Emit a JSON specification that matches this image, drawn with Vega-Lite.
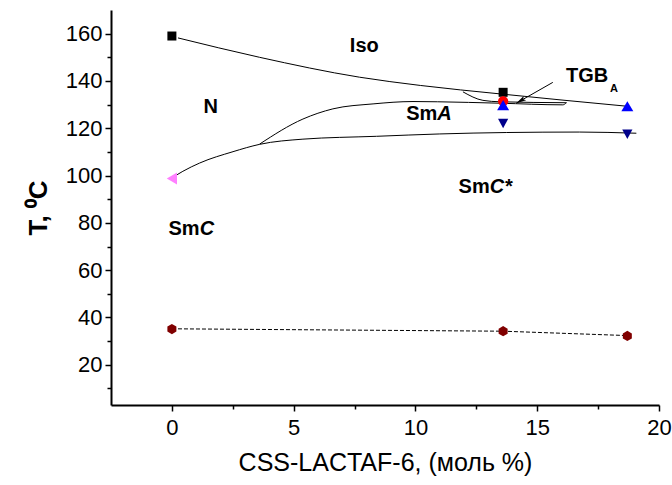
{
  "$schema": "https://vega.github.io/schema/vega-lite/v6.json",
  "width": 548,
  "height": 395,
  "autosize": {"type": "none"},
  "padding": {"left": 111, "top": 10, "right": 13, "bottom": 80},
  "background": "white",
  "config": {
    "view": {"stroke": null},
    "font": "Liberation Sans",
    "axis": {
      "grid": false,
      "domainColor": "black",
      "domainWidth": 2,
      "tickColor": "black",
      "tickWidth": 1.5,
      "labelColor": "black",
      "labelFont": "Liberation Sans",
      "labelFontSize": 22,
      "titleColor": "black",
      "titleFont": "Liberation Sans"
    }
  },
  "datasets": {
    "pts": [
      {"s": "sq", "x": 0, "y": 159.0},
      {"s": "sq", "x": 13.6, "y": 135.2},
      {"s": "ci", "x": 13.6, "y": 131.4},
      {"s": "up", "x": 13.6, "y": 129.8},
      {"s": "up", "x": 18.7, "y": 129.3},
      {"s": "dn", "x": 13.6, "y": 122.0},
      {"s": "dn", "x": 18.7, "y": 117.5},
      {"s": "lt", "x": 0, "y": 98.8},
      {"s": "hx", "x": 0, "y": 35.1},
      {"s": "hx", "x": 13.6, "y": 34.2},
      {"s": "hx", "x": 18.7, "y": 32.2}
    ],
    "lines": [
      {"c": "iso", "x": 0.25, "y": 158.2},
      {"c": "iso", "x": 3.6, "y": 150.0},
      {"c": "iso", "x": 7.7, "y": 141.6},
      {"c": "iso", "x": 10.2, "y": 138.1},
      {"c": "iso", "x": 13.5, "y": 134.5},
      {"c": "iso", "x": 18.7, "y": 129.3},
      {"c": "tgb", "x": 11.95, "y": 135.4},
      {"c": "tgb", "x": 12.77, "y": 131.8},
      {"c": "tgb", "x": 13.46, "y": 131.2},
      {"c": "tgb", "x": 16.2, "y": 130.8},
      {"c": "sma", "x": 3.6, "y": 113.3},
      {"c": "sma", "x": 5.38, "y": 123.9},
      {"c": "sma", "x": 6.61, "y": 128.2},
      {"c": "sma", "x": 8.26, "y": 130.3},
      {"c": "sma", "x": 9.9, "y": 131.3},
      {"c": "sma", "x": 10.9, "y": 131.2},
      {"c": "sma", "x": 13.46, "y": 130.6},
      {"c": "sma", "x": 16.05, "y": 129.9},
      {"c": "sma", "x": 16.2, "y": 130.8},
      {"c": "low", "x": 0.05, "y": 99.3},
      {"c": "low", "x": 0.45, "y": 101.8},
      {"c": "low", "x": 1.14, "y": 105.3},
      {"c": "low", "x": 2.51, "y": 110.1},
      {"c": "low", "x": 3.6, "y": 113.2},
      {"c": "low", "x": 5.38, "y": 115.4},
      {"c": "low", "x": 8.4, "y": 116.6},
      {"c": "low", "x": 11.0, "y": 117.6},
      {"c": "low", "x": 13.73, "y": 118.2},
      {"c": "low", "x": 16.74, "y": 118.4},
      {"c": "low", "x": 19.07, "y": 117.9},
      {"c": "arrow", "x": 15.64, "y": 139.4},
      {"c": "arrow", "x": 14.14, "y": 130.6}
    ],
    "dash": [
      {"x": 0.25, "y": 35.2},
      {"x": 13.6, "y": 34.2},
      {"x": 18.85, "y": 32.3}
    ],
    "head": [
      {"x": 14.14, "y": 130.6}
    ],
    "plain": [
      {"t": "Iso", "x": 7.9, "y": 154.9},
      {"t": "N", "x": 1.59, "y": 129.0},
      {"t": "TGB", "x": 17.05, "y": 142.3}
    ],
    "comp": [
      {"a": "Sm", "b": "A", "x": 10.9, "y": 126.2},
      {"a": "Sm", "b": "C*", "x": 13.05, "y": 95.3},
      {"a": "Sm", "b": "C", "x": 1.14, "y": 77.6}
    ],
    "sub": [
      {"t": "A", "x": 18.15, "y": 136.6}
    ]
  },
  "encoding": {
    "x": {
      "field": "x",
      "type": "quantitative",
      "scale": {"domain": [-2.5, 20], "nice": false, "zero": false},
      "axis": {
        "values": [0, 2.5, 5, 7.5, 10, 12.5, 15, 17.5, 20],
        "labelExpr": "datum.value % 5 === 0 ? datum.label : ''",
        "tickSize": {"condition": {"test": "datum.value % 5 === 0", "value": 6}, "value": 4},
        "labelPadding": 6,
        "labelFlush": false,
        "title": "CSS-LACTAF-6, (моль %)",
        "titleFontSize": 25,
        "titleFontWeight": "normal",
        "titlePadding": 12
      }
    },
    "y": {
      "field": "y",
      "type": "quantitative",
      "scale": {"domain": [3, 170], "nice": false, "zero": false},
      "axis": {
        "values": [10, 20, 30, 40, 50, 60, 70, 80, 90, 100, 110, 120, 130, 140, 150, 160],
        "labelExpr": "datum.value % 20 === 0 ? datum.label : ''",
        "tickSize": {"condition": {"test": "datum.value % 20 === 0", "value": 6}, "value": 4},
        "labelPadding": 3,
        "labelFlush": false,
        "title": "T, ⁰C",
        "titleFontSize": 26,
        "titleFontWeight": "bold",
        "titlePadding": 14
      }
    }
  },
  "layer": [
    {
      "data": {"name": "dash"},
      "mark": {"type": "line", "color": "black", "strokeWidth": 1, "strokeDash": [4, 2]}
    },
    {
      "data": {"name": "lines"},
      "mark": {"type": "line", "color": "black", "strokeWidth": 1, "interpolate": "monotone"},
      "encoding": {"detail": {"field": "c", "type": "nominal"}}
    },
    {
      "data": {"name": "head"},
      "mark": {"type": "point", "filled": true, "color": "black", "opacity": 1, "size": 100, "angle": 240, "shape": "M0,0L0.5,2L0,1.6L-0.5,2Z", "strokeWidth": 0}
    },
    {
      "data": {"name": "pts"},
      "mark": {"type": "point", "filled": true, "opacity": 1, "size": 144, "strokeWidth": 0},
      "encoding": {
        "shape": {
          "field": "s", "type": "nominal", "legend": null,
          "scale": {
            "domain": ["sq", "ci", "up", "dn", "lt", "hx"],
            "range": [
              "M-0.75,-0.75L0.75,-0.75L0.75,0.75L-0.75,0.75Z",
              "M-0.85,0A0.85,0.85,0,1,1,0.85,0A0.85,0.85,0,1,1,-0.85,0Z",
              "M0,-0.85L1,0.85L-1,0.85Z",
              "M0,0.8L0.85,-0.8L-0.85,-0.8Z",
              "M-0.85,0L0.85,-1L0.85,1Z",
              "M0,-0.85L0.75,-0.42L0.75,0.42L0,0.85L-0.75,0.42L-0.75,-0.42Z"
            ]
          }
        },
        "color": {
          "field": "s", "type": "nominal", "legend": null,
          "scale": {
            "domain": ["sq", "ci", "up", "dn", "lt", "hx"],
            "range": ["#000000", "#ff0000", "#0000ff", "#00008b", "#ff80ff", "#800000"]
          }
        }
      }
    },
    {
      "data": {"name": "plain"},
      "mark": {"type": "text", "font": "Liberation Sans", "fontSize": 20, "fontWeight": "bold", "align": "center", "baseline": "middle", "color": "black"},
      "encoding": {"text": {"field": "t"}}
    },
    {
      "data": {"name": "comp"},
      "mark": {"type": "text", "font": "Liberation Sans", "fontSize": 20, "fontWeight": "bold", "align": "right", "baseline": "middle", "color": "black"},
      "encoding": {"text": {"field": "a"}}
    },
    {
      "data": {"name": "comp"},
      "mark": {"type": "text", "font": "Liberation Sans", "fontSize": 20, "fontWeight": "bold", "fontStyle": "italic", "align": "left", "baseline": "middle", "color": "black"},
      "encoding": {"text": {"field": "b"}}
    },
    {
      "data": {"name": "sub"},
      "mark": {"type": "text", "font": "Liberation Sans", "fontSize": 11, "fontWeight": "bold", "align": "center", "baseline": "middle", "color": "black"},
      "encoding": {"text": {"field": "t"}}
    }
  ]
}
